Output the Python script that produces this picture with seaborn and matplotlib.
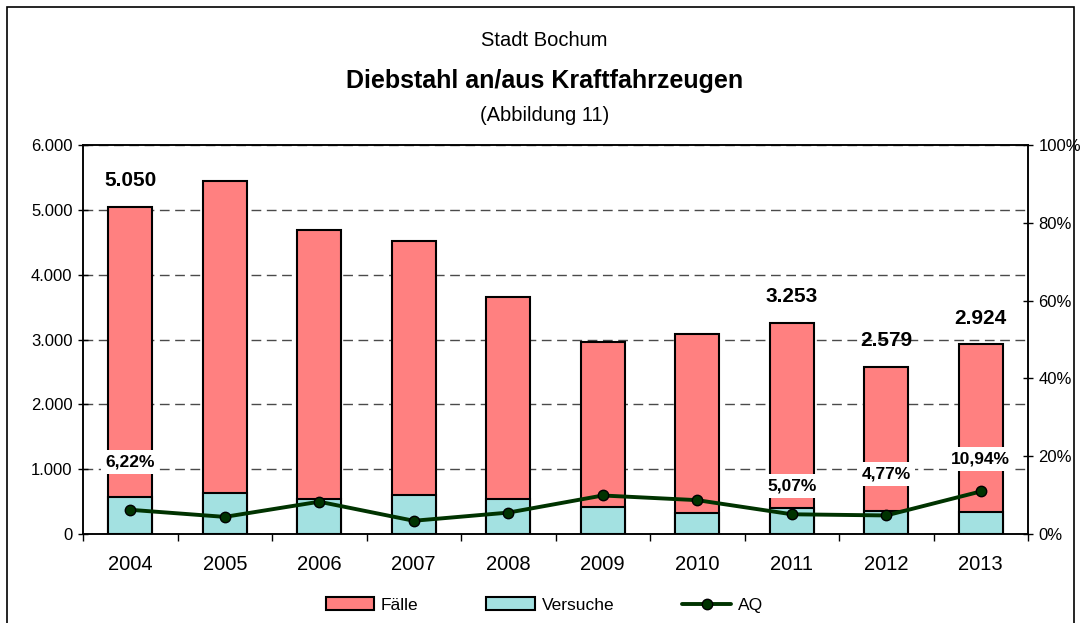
import matplotlib
matplotlib.use("Agg")
import matplotlib.pyplot as plt
import seaborn as sns
import pandas as pd
from matplotlib.patches import Patch, Rectangle
from matplotlib.lines import Line2D
from matplotlib.ticker import FixedLocator, FuncFormatter

# ---------------- data ----------------
years = ['2004', '2005', '2006', '2007', '2008', '2009', '2010', '2011', '2012', '2013']
faelle = [5050, 5452, 4691, 4522, 3662, 2958, 3082, 3253, 2579, 2924]
versuche = [575, 637, 540, 602, 535, 412, 319, 400, 355, 344]
aq = [6.22, 4.4, 8.3, 3.4, 5.5, 9.9, 8.7, 5.07, 4.77, 10.94]
labelled_years = ['2004', '2011', '2012', '2013']
left_ticks = [0, 1000, 2000, 3000, 4000, 5000, 6000]
right_ticks = [0, 20, 40, 60, 80, 100]

title_top = 'Stadt Bochum'
title_main = 'Diebstahl an/aus Kraftfahrzeugen'
title_sub = '(Abbildung 11)'

# label placement (styling, percent-axis y of AQ labels)
aq_label_y = {'2004': 18.5, '2011': 12.3, '2012': 15.4, '2013': 19.3}

df = pd.DataFrame({'Jahr': years, 'Fälle': faelle, 'Versuche': versuche, 'AQ': aq})

# ---------------- style ----------------
sns.set_theme(style='white')
plt.rcParams['font.family'] = ['Liberation Sans', 'DejaVu Sans']
plt.rcParams['axes.edgecolor'] = 'black'
plt.rcParams['text.color'] = 'black'
plt.rcParams['xtick.color'] = 'black'
plt.rcParams['ytick.color'] = 'black'
plt.rcParams['axes.labelcolor'] = 'black'

PINK = '#FF8080'
CYAN = '#A3E1E1'
GREEN = '#003300'

fig = plt.figure(figsize=(10.82, 6.23), dpi=100)
ax = fig.add_axes([83 / 1082, 89 / 623, 945 / 1082, 389 / 623])

sns.barplot(data=df, x='Jahr', y='Fälle', color=PINK, edgecolor='black',
            linewidth=1.5, width=0.47, saturation=1, ax=ax, zorder=2)
sns.barplot(data=df, x='Jahr', y='Versuche', color=CYAN, edgecolor='black',
            linewidth=1.5, width=0.47, saturation=1, ax=ax, zorder=3)

ax.set_xlim(-0.5, len(years) - 0.5)
ax.set_ylim(0, 6000)
ax.set_xlabel('')
ax.set_ylabel('')
ax.yaxis.set_major_locator(FixedLocator(left_ticks))
ax.yaxis.set_major_formatter(FuncFormatter(lambda v, p: f"{int(v):,}".replace(',', '.')))
ax.set_axisbelow(True)
ax.yaxis.grid(True, linestyle=(0, (7, 4)), color='#4a4a4a', linewidth=1.0)
ax.xaxis.grid(False)
for s in ax.spines.values():
    s.set_visible(True)
    s.set_color('black')
    s.set_linewidth(1.1)

ax.tick_params(axis='y', which='major', direction='inout', length=7, width=1,
               color='black', labelcolor='black', labelsize=12, pad=4, left=True)
ax.tick_params(axis='x', which='major', length=0, labelsize=14.5, pad=15,
               labelcolor='black')
ax.set_xticks(range(len(years)))
ax.set_xticklabels(years)
ax.set_xticks([i - 0.5 for i in range(len(years) + 1)], minor=True)
ax.tick_params(axis='x', which='minor', direction='out', length=5, width=1,
               color='black', bottom=True)

# value labels above selected bars
for i, (y, v) in enumerate(zip(years, faelle)):
    if y in labelled_years:
        ax.annotate(f"{v:,}".replace(',', '.'), xy=(i, v), xytext=(0, 19),
                    textcoords='offset points', ha='center', va='center',
                    fontsize=15, fontweight='bold', color='black', zorder=5)

# AQ line on secondary axis
ax2 = ax.twinx()
sns.pointplot(data=df, x='Jahr', y='AQ', color=GREEN, markers='o',
              linestyles='-', ax=ax2, zorder=4,
              markersize=7.5, markeredgecolor='black', markeredgewidth=1,
              linewidth=2.8)
ax2.set_xlim(-0.5, len(years) - 0.5)
ax2.set_ylim(0, 100)
ax2.set_xlabel('')
ax2.set_ylabel('')
ax2.yaxis.set_major_locator(FixedLocator(right_ticks))
ax2.yaxis.set_major_formatter(FuncFormatter(lambda v, p: f"{int(v)}%"))
ax2.tick_params(axis='y', which='major', direction='inout', length=7, width=1,
                color='black', labelcolor='black', labelsize=12, pad=4, right=True)
ax2.grid(False)
for s in ax2.spines.values():
    s.set_visible(True)
    s.set_color('black')
    s.set_linewidth(1.1)

for i, (y, v) in enumerate(zip(years, aq)):
    if y in labelled_years:
        ax2.text(i, aq_label_y[y], f"{v:.2f}".replace('.', ',') + '%',
                 ha='center', va='center', fontsize=12.5, fontweight='bold',
                 color='black', zorder=6,
                 bbox=dict(facecolor='white', edgecolor='none', pad=3))

# titles
fig.text(0.503, 1 - 40 / 623, title_top, ha='center', va='center', fontsize=14.5)
fig.text(0.503, 1 - 81 / 623, title_main, ha='center', va='center',
         fontsize=18, fontweight='bold')
fig.text(0.503, 1 - 116 / 623, title_sub, ha='center', va='center', fontsize=14.5)

# legend
handles = [Patch(facecolor=PINK, edgecolor='black', linewidth=1.5, label='Fälle'),
           Patch(facecolor=CYAN, edgecolor='black', linewidth=1.5, label='Versuche'),
           Line2D([0], [0], color=GREEN, linewidth=2.8, marker='o', markersize=7.5,
                  markerfacecolor=GREEN, markeredgecolor='black', label='AQ')]
fig.legend(handles=handles, loc='center', bbox_to_anchor=(0.503, 1 - 605 / 623),
           ncol=3, frameon=False, fontsize=12.5, handlelength=2.8, handleheight=0.7,
           columnspacing=3.9, handletextpad=0.4)

# outer border
fig.patches.append(Rectangle((7 / 1082, -0.02), (1074 - 7) / 1082, 1.02 - 7 / 623,
                             transform=fig.transFigure, fill=False,
                             edgecolor='black', linewidth=1.2, clip_on=False))

fig.savefig('out.png', dpi=100)
